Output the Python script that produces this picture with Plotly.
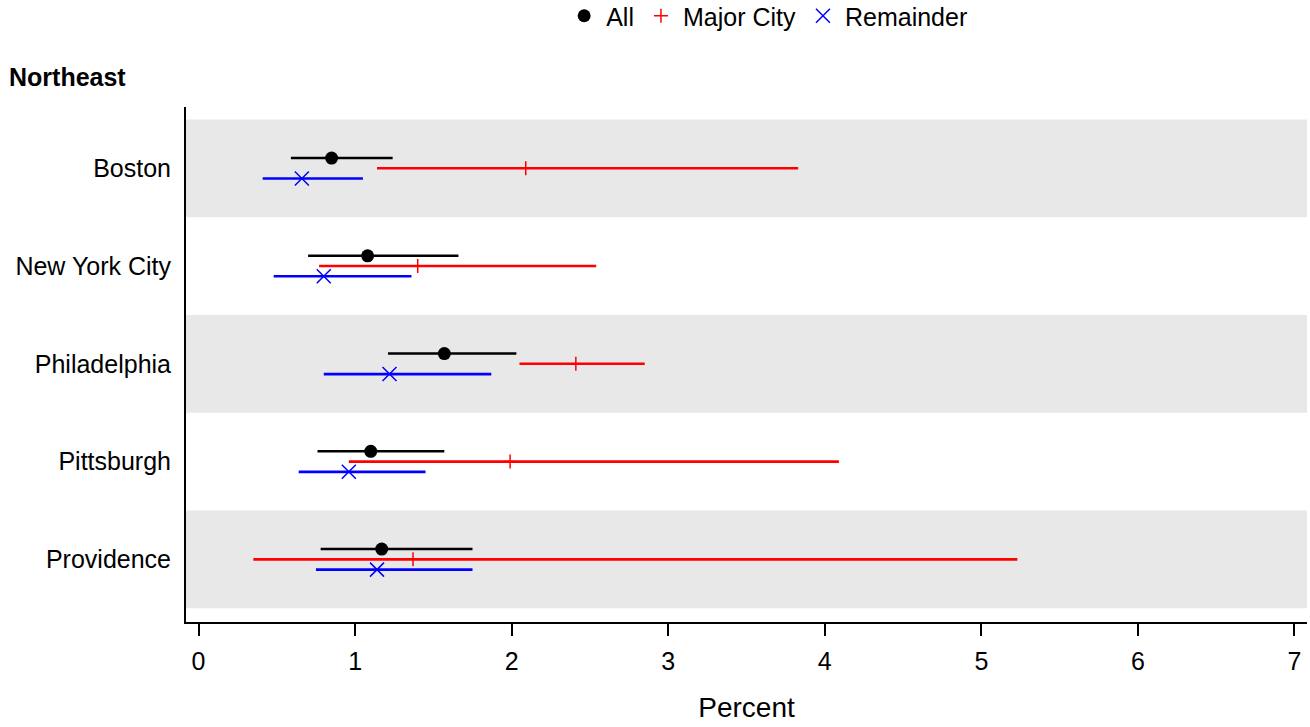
import plotly.graph_objects as go

# ---- data ----
cities = ["Boston", "New York City", "Philadelphia", "Pittsburgh", "Providence"]

all_est = [0.85, 1.08, 1.57, 1.10, 1.17]
all_lo = [0.59, 0.70, 1.21, 0.76, 0.78]
all_hi = [1.24, 1.66, 2.03, 1.57, 1.75]

major_est = [2.09, 1.40, 2.41, 1.99, 1.37]
major_lo = [1.14, 0.77, 2.05, 0.96, 0.35]
major_hi = [3.83, 2.54, 2.85, 4.09, 5.23]

rem_est = [0.66, 0.80, 1.22, 0.96, 1.14]
rem_lo = [0.41, 0.48, 0.80, 0.64, 0.75]
rem_hi = [1.05, 1.36, 1.87, 1.45, 1.75]

x_ticks = [0, 1, 2, 3, 4, 5, 6, 7]
region_title = "Northeast"
x_title = "Percent"

FONT = "Liberation Sans, Arial, sans-serif"

series = [
    ("All", all_est, all_lo, all_hi, -0.105, "black",
     dict(symbol="circle", size=13, color="black")),
    ("Major City", major_est, major_lo, major_hi, 0.0, "#ff0000",
     dict(symbol="cross-thin-open", size=10, color="#ff0000",
          line=dict(color="#ff0000", width=1.5))),
    ("Remainder", rem_est, rem_lo, rem_hi, 0.105, "#0000ff",
     dict(symbol="x-thin-open", size=14, color="#0000ff",
          line=dict(color="#0000ff", width=1.5))),
]

fig = go.Figure()
for name, est, lo, hi, off, col, mk in series:
    ys = [i + off for i in range(len(cities))]
    fig.add_trace(go.Scatter(
        x=est, y=ys, mode="markers", name=name, marker=mk,
        error_x=dict(type="data", symmetric=False,
                     array=[h - e for h, e in zip(hi, est)],
                     arrayminus=[e - l for e, l in zip(est, lo)],
                     color=col, thickness=2.6, width=0),
    ))

for i in range(0, len(cities), 2):
    fig.add_shape(type="rect", xref="x domain", x0=0, x1=1, yref="y",
                  y0=i - 0.5, y1=i + 0.5, fillcolor="#e8e8e8",
                  line=dict(width=0), layer="below")

fig.update_layout(
    width=1310, height=727,
    margin=dict(l=186, r=3, t=107, b=105),
    plot_bgcolor="white", paper_bgcolor="white",
    font=dict(family=FONT, size=25, color="black"),
    title=dict(text="<b>" + region_title + "</b>", xref="container", yref="container",
               x=9 / 1310, xanchor="left", y=1 - 77 / 727, yanchor="middle",
               font=dict(family=FONT, size=25, color="black")),
    legend=dict(orientation="h", xref="container", yref="container",
                x=0.586, xanchor="center", y=1 - 16 / 727, yanchor="middle",
                font=dict(family=FONT, size=25, color="black"),
                itemwidth=34, bgcolor="rgba(0,0,0,0)"),
    showlegend=True,
)

fig.update_xaxes(
    range=[-0.08, 7.08], tickvals=x_ticks, ticktext=[str(t) for t in x_ticks],
    showline=True, linecolor="black", linewidth=2,
    ticks="outside", ticklen=12, tickwidth=2, tickcolor="black",
    ticklabelstandoff=4,
    showgrid=False, zeroline=False,
    title=dict(text=x_title, font=dict(family=FONT, size=28, color="black"), standoff=23),
)
fig.update_yaxes(
    range=[4.641, -0.627], tickvals=list(range(len(cities))), ticktext=cities,
    showline=True, linecolor="black", linewidth=2,
    ticks="", ticklabelstandoff=8,
    showgrid=False, zeroline=False,
)

fig.write_html("out.html", config={"displayModeBar": False},
               post_script="document.body.style.margin='0';document.body.style.padding='0';")
